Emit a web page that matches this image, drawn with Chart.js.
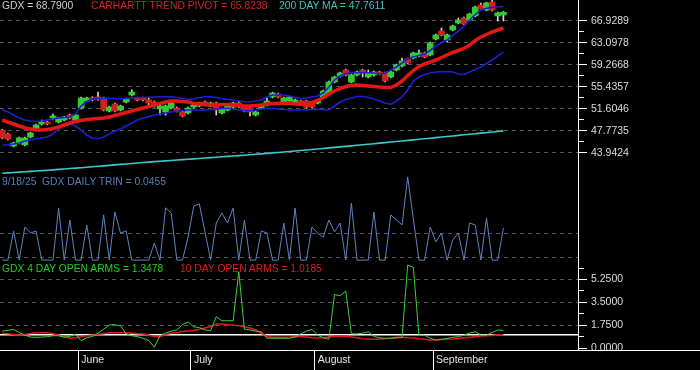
<!DOCTYPE html>
<html><head><meta charset="utf-8">
<script src="https://cdn.jsdelivr.net/npm/chart.js"></script>
<style>
html,body{margin:0;padding:0;background:#000;}
#wrap{position:relative;width:700px;height:370px;overflow:hidden;background:#000;}
#c{position:absolute;left:0;top:0;}
.t{position:absolute;font-family:'Liberation Sans',Arial,sans-serif;font-size:10.3px;line-height:12px;white-space:pre;}
</style></head><body>
<div id="wrap">
<canvas id="c" width="700" height="370"></canvas>
<div class="t" style="left:2px;top:0px;color:#cfcfcf">GDX = 68.7900</div>
<div class="t" style="left:91px;top:0px;color:#d42424">CARHARTT TREND PIVOT = 65.8238</div>
<div class="t" style="left:279px;top:0px;color:#3cc6c6">200 DAY MA = 47.7611</div>
<div class="t" style="left:2px;top:175.5px;color:#5b7db8">9/18/25  GDX DAILY TRIN = 0.0455</div>
<div class="t" style="left:2px;top:262.5px;color:#26cc26">GDX 4 DAY OPEN ARMS = 1.3478</div>
<div class="t" style="left:180px;top:262.5px;color:#d42020">10 DAY OPEN ARMS = 1.0185</div>
</div>
<script>
// ---------- data (one entry per trading day, 12 May – 18 Sep 2025) ----------
const months = ['June', 'July', 'August', 'September'];
const monthFirstIndex = [14, 34, 56, 77];

const priceTicks = [43.9424, 47.7735, 51.6046, 55.4357, 59.2668, 63.0978, 66.9289];
const armsTicks = [0, 1.75, 3.5, 5.25];
const trinGrid = [1, 2];

const open = [47.91,47.21,45.13,45.65,45.30,46.69,47.91,48.96,49.30,50.00,
 49.30,49.65,50.52,49.65,51.74,52.96,53.48,53.66,53.48,51.22,
 52.44,51.39,52.79,54.00,53.48,53.48,53.14,52.79,51.57,51.05,
 51.74,51.74,51.05,50.87,51.92,52.09,52.79,52.09,52.61,50.87,
 51.39,51.92,52.61,51.92,51.74,50.52,51.74,52.26,53.66,54.18,
 52.79,52.96,52.61,52.96,52.96,52.61,52.61,53.48,54.35,56.27,
 57.32,58.36,56.27,57.49,58.36,57.14,57.49,58.01,57.84,57.14,
 58.36,59.06,60.28,60.45,60.80,61.32,60.97,63.76,65.15,63.59,
 65.33,66.55,67.42,67.07,67.77,69.68,68.81,70.20,67.77,67.94];
const close = [46.52,46.34,45.65,46.52,46.52,47.39,48.78,49.30,48.96,50.35,
 50.00,50.17,50.00,50.52,53.48,53.48,53.14,53.31,51.39,51.92,
 51.22,52.09,53.31,54.53,53.14,53.14,52.61,52.26,52.09,52.09,
 52.61,51.22,50.35,51.74,52.26,52.61,52.26,52.61,51.39,51.57,
 52.26,52.61,51.92,51.22,51.05,51.05,52.26,52.96,54.35,53.66,
 53.48,53.66,53.14,52.44,51.92,51.92,53.14,54.70,56.27,57.14,
 57.84,57.49,57.49,58.01,57.84,57.84,58.01,57.66,56.45,58.01,
 59.23,59.93,59.58,61.32,61.32,60.62,63.06,64.46,64.46,64.46,
 66.02,67.07,66.37,68.11,69.33,68.98,70.03,68.81,68.29,68.40];
const high = [48.06,47.36,45.80,46.67,46.67,47.54,48.93,49.65,49.45,50.70,
 50.15,50.32,50.67,50.67,53.63,53.63,53.70,54.53,53.63,52.07,
 52.59,52.24,53.46,54.90,53.63,53.63,53.50,52.94,52.24,52.24,
 52.76,51.89,51.20,51.89,52.41,52.76,52.94,52.76,52.76,51.72,
 52.41,52.76,52.96,52.07,51.89,51.20,52.41,53.48,54.50,54.33,
 53.63,53.81,53.29,53.11,53.11,52.76,53.29,54.85,56.42,57.29,
 57.99,58.51,57.64,58.16,58.50,58.36,58.16,58.16,57.99,58.16,
 59.38,60.45,60.43,61.47,61.84,61.47,63.21,64.61,65.68,64.61,
 66.17,67.42,67.57,68.26,69.48,70.00,70.18,70.50,68.44,68.55];
const low = [46.37,46.19,44.98,45.50,45.15,46.54,47.76,48.81,48.81,49.65,
 49.15,49.50,49.85,49.50,51.59,52.81,52.99,53.10,51.24,51.07,
 51.07,51.24,52.64,53.85,52.99,52.99,52.20,51.90,50.52,50.50,
 51.59,51.07,50.20,50.72,51.77,51.94,52.11,51.94,50.52,50.72,
 51.24,51.77,51.77,51.07,50.35,50.37,51.59,52.11,53.51,53.51,
 52.64,52.81,52.46,52.29,51.77,51.77,52.46,53.33,54.00,56.12,
 57.17,57.34,56.12,57.34,57.14,56.99,57.30,57.51,56.30,56.99,
 58.21,58.91,59.43,60.30,60.65,60.47,60.82,63.61,64.31,63.20,
 65.18,66.40,66.22,66.92,67.62,68.83,68.66,68.66,66.89,66.89];

const trendPivot = [49.65,49.30,48.96,48.61,48.26,48.09,47.91,47.91,48.00,48.17,
 48.43,48.78,49.13,49.39,49.57,49.74,49.83,49.91,50.00,50.17,
 50.44,50.70,50.96,51.22,51.48,51.74,52.00,52.27,52.53,52.79,
 52.96,52.96,52.87,52.79,52.53,52.44,52.35,52.27,52.27,52.35,
 52.35,52.27,52.18,52.09,52.09,52.18,52.27,52.44,52.53,52.56,
 52.56,52.56,52.44,52.35,52.44,52.70,53.05,53.57,54.18,54.70,
 55.14,55.49,55.66,55.75,55.66,55.57,55.49,55.40,55.31,55.31,
 55.75,56.44,57.40,58.27,58.97,59.41,59.75,60.10,60.54,60.97,
 61.41,61.76,62.11,62.71,63.50,64.11,64.54,64.98,65.33,65.68];
const upperBand = [51.41,51.06,50.52,50.00,49.65,49.48,49.39,49.48,49.65,49.83,
 50.00,50.09,50.17,50.70,52.09,52.87,53.31,53.40,53.43,53.43,
 53.40,53.31,53.40,53.54,53.57,53.57,53.61,53.66,53.71,53.71,
 53.71,53.57,53.40,53.22,53.31,53.57,53.71,53.71,53.57,53.40,
 53.22,53.13,52.96,52.84,52.79,52.96,53.13,53.66,54.01,54.01,
 54.01,53.83,53.57,53.43,53.48,53.66,53.83,54.35,55.40,56.62,
 57.32,57.75,57.89,57.89,57.89,57.89,57.84,57.66,57.84,58.36,
 58.88,59.58,60.36,60.62,60.89,61.15,61.76,62.54,63.15,63.59,
 64.37,65.15,66.02,67.07,68.03,68.81,69.11,69.27,69.33,69.39];
const lowerBand = [45.30,45.30,45.47,45.65,45.99,46.17,46.34,46.52,46.69,47.21,
 48.09,48.78,48.96,48.61,47.91,47.04,46.52,46.43,46.69,47.21,
 47.73,48.09,48.61,49.13,49.65,50.00,50.26,50.52,50.70,50.87,
 51.05,51.22,51.31,51.39,51.39,51.39,51.39,51.48,51.57,51.66,
 51.69,51.57,51.39,51.27,51.31,51.39,51.57,51.69,51.66,51.57,
 51.48,51.39,51.39,51.39,51.39,51.48,51.52,51.48,51.39,52.09,
 52.79,53.22,53.48,53.75,53.75,53.57,53.31,52.96,52.61,52.35,
 52.96,53.71,54.88,56.44,57.14,57.58,57.84,58.01,58.07,58.10,
 58.01,57.66,57.58,58.01,58.45,58.88,59.49,60.10,60.80,61.49];
const ma200 = [40.37,40.44,40.50,40.57,40.63,40.70,40.77,40.83,40.90,40.97,
 41.05,41.12,41.20,41.27,41.35,41.43,41.51,41.59,41.67,41.75,
 41.83,41.92,42.00,42.08,42.16,42.24,42.32,42.40,42.47,42.54,
 42.61,42.68,42.75,42.82,42.89,42.96,43.03,43.10,43.17,43.24,
 43.31,43.38,43.45,43.52,43.60,43.68,43.76,43.84,43.92,44.00,
 44.08,44.16,44.25,44.34,44.43,44.52,44.61,44.70,44.79,44.88,
 44.97,45.06,45.15,45.25,45.34,45.43,45.53,45.62,45.72,45.81,
 45.91,46.00,46.10,46.19,46.29,46.39,46.48,46.58,46.68,46.78,
 46.87,46.97,47.07,47.17,47.27,47.37,47.46,47.56,47.66,47.76];

const trin = [0.88,0.88,2.13,0.88,2.30,2.04,2.13,0.88,0.88,0.88,
 3.12,0.88,2.60,0.88,0.88,2.39,0.88,0.88,2.82,0.88,
 2.94,2.04,2.13,0.88,0.88,0.88,0.88,1.61,0.88,3.12,
 2.90,0.88,0.88,1.87,3.20,3.29,2.09,0.88,2.47,2.90,
 2.47,3.12,0.88,2.60,0.88,0.88,2.13,2.04,0.88,0.88,
 2.47,0.88,3.12,0.88,0.88,2.30,2.04,1.87,2.60,2.09,
 2.47,0.88,3.33,0.88,0.88,0.88,2.94,0.88,0.88,2.82,
 2.60,2.39,4.45,2.66,0.88,0.88,2.30,1.66,2.04,0.88,
 1.74,2.04,0.88,2.47,2.39,0.88,2.69,0.88,0.88,2.26];

const arms4 = [1.31,1.36,1.44,1.20,1.00,0.85,0.83,0.85,0.88,0.95,
 0.95,0.85,0.90,1.08,0.57,0.80,0.90,1.15,1.45,1.77,
 1.80,1.70,1.10,0.95,0.88,0.75,0.60,0.07,0.95,1.15,
 1.30,1.39,1.80,2.00,1.64,1.57,1.40,1.34,2.41,2.10,
 2.10,2.10,5.85,1.45,1.39,1.30,1.26,0.76,0.76,0.76,
 0.76,0.76,0.85,1.10,1.30,1.44,1.00,0.80,0.68,4.10,
 4.00,4.37,1.10,1.09,1.15,1.26,0.90,0.80,0.76,0.76,
 0.78,0.83,6.36,6.18,1.00,1.00,0.75,0.63,0.68,0.75,
 0.83,0.88,1.00,1.15,1.26,1.00,1.00,1.20,1.39,1.35];
const arms10 = [1.14,1.10,1.05,1.00,1.05,1.12,1.18,1.18,1.18,1.10,
 1.00,0.85,0.76,0.80,0.88,0.95,1.00,1.06,1.10,1.18,
 1.18,1.18,1.18,1.15,1.10,1.08,1.00,0.90,0.88,1.05,
 1.14,1.20,1.27,1.32,1.36,1.45,1.55,1.66,1.85,1.85,
 1.80,1.77,1.72,1.64,1.55,1.40,1.14,0.90,0.83,0.83,
 0.83,0.85,0.88,0.88,0.85,0.80,0.78,0.80,0.85,0.90,
 0.93,0.90,0.85,0.80,0.72,0.70,0.68,0.68,0.72,0.78,
 0.83,0.83,0.80,0.78,0.72,0.68,0.63,0.63,0.66,0.68,
 0.70,0.75,0.80,0.83,0.88,0.93,0.95,0.98,1.02,1.02];

// ---------- chart ----------
const FONT = "'Liberation Sans', Arial, sans-serif";
Chart.defaults.font.family = FONT;
Chart.defaults.font.size = 10.5;

const pts = arr => arr.map((v, i) => ({x: i, y: v}));
const isUp = open.map((o, i) => close[i] >= o);
const mids = a => a.slice(1).map((v, i) => (v + a[i]) / 2);
const priceMinor = mids(priceTicks);
const armsMinor = mids(armsTicks).concat([armsTicks[armsTicks.length - 1] + 0.875]);
const priceAll = priceTicks.concat(priceMinor).sort((a, b) => a - b);
const armsAll = armsTicks.concat(armsMinor, [1]).sort((a, b) => a - b);

const tv = c => (c && c.tick) ? c.tick.value : null;
const GRID = '#565656';
const CLEAR = 'rgba(0,0,0,0)';
const fixSize = w => s => { s.width = w; s.paddingTop = 0; s.paddingBottom = 0; s.paddingLeft = 0; s.paddingRight = 0; };

const line = (label, data, color, width, axis, order) => ({
  type: 'line', label, data: pts(data), borderColor: color, borderWidth: width,
  yAxisID: axis, xAxisID: 'x', pointRadius: 0, tension: 0, order, clip: false
});

const framePlugin = {
  id: 'frame',
  beforeDraw(chart) {
    const ctx = chart.ctx;
    ctx.save(); ctx.fillStyle = '#000'; ctx.fillRect(0, 0, chart.width, chart.height); ctx.restore();
  },
  afterDraw(chart) {
    const ctx = chart.ctx, a = chart.chartArea;
    ctx.save();
    ctx.fillStyle = '#000';
    ctx.fillRect(a.right + 1, a.bottom + 1, chart.width - a.right - 1, chart.height - a.bottom - 1);
    ctx.strokeStyle = '#fff'; ctx.lineWidth = 1;
    ctx.beginPath(); ctx.moveTo(a.right, a.bottom + 0.5); ctx.lineTo(chart.width, a.bottom + 0.5); ctx.stroke();
    ctx.restore();
  }
};

new Chart(document.getElementById('c'), {
  type: 'line',
  data: {
    datasets: [
      line('Carhartt trend pivot', trendPivot, '#e41616', 3.5, 'y', 1),
      line('Upper band', upperBand, '#1e1ed4', 1.6, 'y', 2),
      line('Lower band', lowerBand, '#1e1ed4', 1.6, 'y', 2),
      line('200 day MA', ma200, '#3cc8c8', 1.6, 'y', 2),
      {
        type: 'bar', label: 'GDX body', xAxisID: 'x', yAxisID: 'y',
        data: open.map((o, i) => ({x: i, y: [o, close[i]]})),
        backgroundColor: isUp.map(u => u ? '#30cc30' : '#cc2222'),
        barThickness: 6, grouped: false, borderWidth: 0, order: 5
      },
      {
        type: 'bar', label: 'GDX range', xAxisID: 'x', yAxisID: 'y',
        data: low.map((l, i) => ({x: i, y: [l, high[i]]})),
        backgroundColor: '#d4d4d4', barThickness: 1, grouped: false, borderWidth: 0, order: 6
      },
      line('Daily TRIN', trin, '#6283c0', 1, 'y2', 1),
      line('4 day open arms', arms4, '#36d436', 1, 'y3', 2),
      line('10 day open arms', arms10, '#d81c1c', 1.6, 'y3', 3)
    ]
  },
  options: {
    responsive: false, animation: false, devicePixelRatio: 1, events: [],
    layout: {padding: 0, autoPadding: false},
    plugins: {legend: {display: false}, tooltip: {enabled: false}},
    scales: {
      x: {
        type: 'linear', position: 'bottom', min: -0.41, max: 102.25, offset: false,
        afterBuildTicks: s => { s.ticks = monthFirstIndex.map(i => ({value: i - 0.5})); },
        afterFit: s => { s.height = 20; s.paddingLeft = 0; s.paddingRight = 0; s.paddingTop = 0; s.paddingBottom = 0; },
        ticks: {autoSkip: false, maxRotation: 0, minRotation: 0, align: 'start', labelOffset: 3, padding: -16.3,
                color: '#e6e6e6', font: {size: 10.5}, callback: (v, i) => months[i]},
        grid: {offset: false, drawOnChartArea: false, drawTicks: true, tickLength: 20, tickColor: '#fff', color: '#fff', lineWidth: 1},
        border: {display: true, color: '#fff', width: 1}
      },
      y: {
        type: 'linear', position: 'right', stack: 'right', stackWeight: 174, weight: 1,
        min: 40.248, max: 70.5513, beginAtZero: false,
        afterBuildTicks: s => { s.ticks = priceAll.map(v => ({value: v})); },
        afterFit: fixSize(122),
        ticks: {autoSkip: false, padding: 4, color: '#dcdcdc', font: {size: 10.5},
                callback: v => priceTicks.includes(v) ? v.toFixed(4) : ''},
        grid: {
          color: c => priceTicks.includes(tv(c)) ? GRID : CLEAR, lineWidth: 1,
          tickLength: 9, tickColor: '#fff', tickWidth: 1,
          tickBorderDash: c => priceTicks.includes(tv(c)) ? [] : [5, 30]
        },
        border: {display: true, color: '#fff', width: 1, dash: c => priceTicks.includes(tv(c)) ? [4, 4] : []}
      },
      y2: {
        type: 'linear', position: 'right', stack: 'right', stackWeight: 88, weight: 2,
        min: 0.7983, max: 4.575,
        afterBuildTicks: s => { s.ticks = trinGrid.map(v => ({value: v})); },
        afterFit: fixSize(122),
        ticks: {display: false},
        grid: {color: GRID, lineWidth: 1, tickLength: 9, tickColor: CLEAR},
        border: {display: true, color: '#fff', width: 1, dash: [4, 4]}
      },
      y3: {
        type: 'linear', position: 'right', stack: 'right', stackWeight: 88, weight: 3,
        min: -0.1376, max: 6.587,
        afterBuildTicks: s => { s.ticks = armsAll.map(v => ({value: v})); },
        afterFit: fixSize(122),
        ticks: {autoSkip: false, padding: 4, color: '#dcdcdc', font: {size: 10.5},
                callback: v => armsTicks.includes(v) ? v.toFixed(4) : ''},
        grid: {
          color: c => { const v = tv(c); return v === 1 ? '#ffffff' : (armsTicks.includes(v) && v !== 0 ? GRID : CLEAR); },
          lineWidth: c => tv(c) === 1 ? 1.5 : 1,
          tickLength: 9, tickWidth: 1,
          tickColor: c => tv(c) === 1 ? CLEAR : '#fff',
          tickBorderDash: c => armsTicks.includes(tv(c)) ? [] : [5, 30]
        },
        border: {display: true, color: '#fff', width: 1, dash: c => { const v = tv(c); return (v !== null && v !== 1) ? [4, 4] : []; }}
      }
    }
  },
  plugins: [framePlugin]
});
</script>
</body></html>
